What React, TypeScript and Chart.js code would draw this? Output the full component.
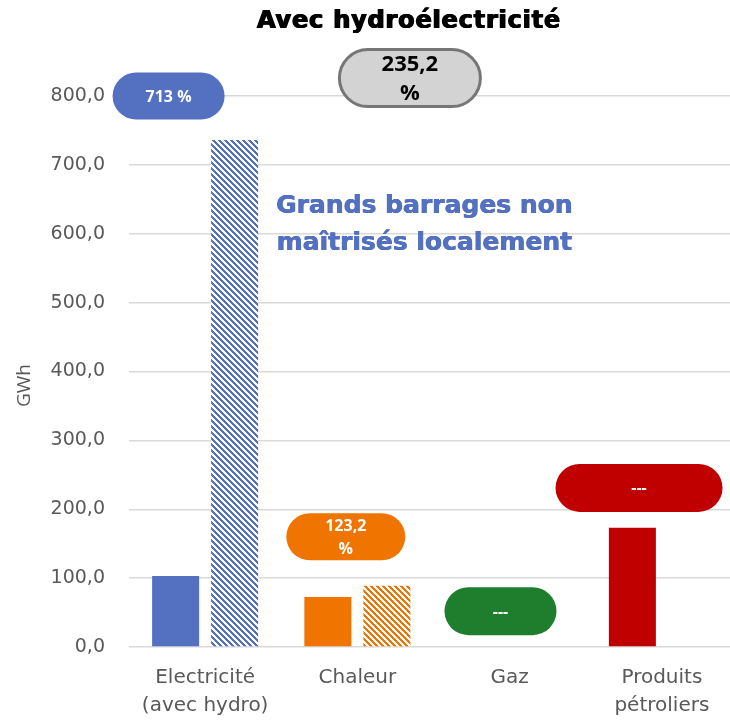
import { useEffect, useRef } from "react";
import { Chart, registerables } from "chart.js";

Chart.register(...registerables);

const categories: (string | string[])[] = [["Electricité", "(avec hydro)"], "Chaleur", "Gaz", ["Produits", "pétroliers"]];
const consumption: (number | null)[] = [103, 72.5, null, 173];
const production: (number | null)[] = [736, 89, null, null];
const yTickValues = [0, 100, 200, 300, 400, 500, 600, 700, 800];
const ratioTexts = [["713 %"], ["235,2", "%"], ["123,2", "%"], ["---"], ["---"]];
const ratioCategory = [0, 1, 1, 2, 3];
const ratioValue = [800, 826, 160, 52, 231];
const noteLines = ["Grands barrages non", "maîtrisés localement"];
const titleText = "Avec hydroélectricité";
const yAxisTitle = "GWh";

const COLORS = ["#5470C0", "#F07400", "#1E7E2E", "#C00000"];
const FONT = "'Open Sans', 'DejaVu Sans', sans-serif";
const HEAVY = "'DejaVu Sans', sans-serif";

// style of each pill annotation (same order as ratioTexts)
const pillStyles = [
  { dx: -0.24, w: 112, h: 47, fill: "#5470C0", stroke: null, color: "#ffffff", size: 16, lh: 0 },
  { dx: 0.345, w: 141, h: 57, fill: "#D3D3D3", stroke: "#767676", color: "#000000", size: 22, lh: 29 },
  { dx: -0.076, w: 119, h: 47, fill: "#F07400", stroke: null, color: "#ffffff", size: 16, lh: 23 },
  { dx: -0.06, w: 112, h: 48, fill: "#1E7E2E", stroke: null, color: "#ffffff", size: 16, lh: 0 },
  { dx: -0.15, w: 167, h: 48, fill: "#C00000", stroke: null, color: "#ffffff", size: 16, lh: 0 },
];

function makeHatch(color: string): CanvasPattern | string {
  const P = 6;
  const c = document.createElement("canvas");
  c.width = P;
  c.height = P;
  const ctx = c.getContext("2d");
  if (!ctx) return color;
  ctx.fillStyle = "#ffffff";
  ctx.fillRect(0, 0, P, P);
  ctx.fillStyle = color;
  for (let x = 0; x < P; x++) {
    for (let y = 0; y < P; y++) {
      if ((((x - y) % P) + P) % P < P / 2) ctx.fillRect(x, y, 1, 1);
    }
  }
  return ctx.createPattern(c, "repeat") || color;
}

function pill(ctx: CanvasRenderingContext2D, cx: number, cy: number, w: number, h: number) {
  const r = h / 2;
  const x = cx - w / 2;
  const y = cy - h / 2;
  ctx.beginPath();
  ctx.moveTo(x + r, y);
  ctx.lineTo(x + w - r, y);
  ctx.arc(x + w - r, cy, r, -Math.PI / 2, Math.PI / 2);
  ctx.lineTo(x + r, y + h);
  ctx.arc(x + r, cy, r, Math.PI / 2, (3 * Math.PI) / 2);
  ctx.closePath();
}

function heavyText(ctx: CanvasRenderingContext2D, t: string, x: number, y: number, color: string, spread: number) {
  ctx.fillStyle = color;
  ctx.fillText(t, x - spread, y);
  ctx.fillText(t, x, y);
  ctx.fillText(t, x + spread, y);
}

const overlayPlugin = {
  id: "overlay",
  afterDatasetsDraw(chart: any) {
    const ctx: CanvasRenderingContext2D = chart.ctx;
    const xs = chart.scales.x;
    const ys = chart.scales.y;
    const catW = xs.getPixelForValue(1) - xs.getPixelForValue(0);
    ctx.save();
    ctx.textAlign = "center";
    ctx.textBaseline = "middle";

    // y axis title
    ctx.save();
    ctx.translate(25, (ys.top + ys.bottom) / 2 + 14);
    ctx.rotate(-Math.PI / 2);
    ctx.fillStyle = "#595959";
    ctx.font = `19px ${FONT}`;
    ctx.fillText(yAxisTitle, 0, 0);
    ctx.restore();

    // title
    ctx.font = `bold 24px ${HEAVY}`;
    (ctx as any).letterSpacing = "0.8px";
    heavyText(ctx, titleText, 409, 22, "#000000", 0.7);

    // note text
    ctx.font = `bold 25px ${HEAVY}`;
    (ctx as any).letterSpacing = "0px";
    const nx = xs.getPixelForValue(1) + 0.44 * catW;
    heavyText(ctx, noteLines[0], nx, ys.getPixelForValue(639), "#5470C0", 0.4);
    heavyText(ctx, noteLines[1], nx, ys.getPixelForValue(586), "#5470C0", 0.4);

    // pills
    ratioTexts.forEach((lines, i) => {
      const st = pillStyles[i];
      const cx = xs.getPixelForValue(ratioCategory[i]) + st.dx * catW;
      const cy = ys.getPixelForValue(ratioValue[i]);
      pill(ctx, cx, cy, st.w, st.h);
      ctx.fillStyle = st.fill;
      ctx.fill();
      if (st.stroke) {
        ctx.lineWidth = 3;
        ctx.strokeStyle = st.stroke;
        ctx.stroke();
      }
      ctx.fillStyle = st.color;
      ctx.font = `bold ${st.size}px ${FONT}`;
      const n = lines.length;
      lines.forEach((t, j) => {
        ctx.fillText(t, cx, cy + (j - (n - 1) / 2) * st.lh + 1);
      });
    });
    ctx.restore();
  },
};

export default function App() {
  const ref = useRef<HTMLCanvasElement | null>(null);
  useEffect(() => {
    if (!ref.current) return;
    const hatches = COLORS.map((c) => makeHatch(c));
    const chart = new Chart(ref.current, {
      type: "bar",
      data: {
        labels: categories,
        datasets: [
          {
            label: "Consommation",
            data: consumption,
            backgroundColor: COLORS,
            categoryPercentage: 0.775,
            barPercentage: 0.797,
          },
          {
            label: "Production",
            data: production,
            backgroundColor: hatches as any,
            categoryPercentage: 0.775,
            barPercentage: 0.797,
          },
        ],
      },
      options: {
        animation: false,
        responsive: true,
        maintainAspectRatio: false,
        layout: { padding: { top: 96, right: 2, left: 0, bottom: 0 } },
        plugins: {
          legend: { display: false },
          tooltip: { enabled: false },
          title: { display: false },
        },
        scales: {
          x: {
            grid: { display: false, drawTicks: false },
            border: { display: false },
            ticks: {
              color: "#595959",
              font: { family: HEAVY, size: 20, lineHeight: 1.4 },
              padding: 17,
              maxRotation: 0,
              autoSkip: false,
            },
            afterFit: (s: any) => {
              s.height = 73;
            },
          },
          y: {
            min: 0,
            max: 800,
            afterBuildTicks: (s: any) => {
              s.ticks = yTickValues.map((v) => ({ value: v }));
            },
            grid: { color: "#D9D9D9", lineWidth: 1.5, drawTicks: false },
            border: { display: false },
            ticks: {
              color: "#595959",
              font: { family: HEAVY, size: 19 },
              padding: 24,
              callback: (v: any) => Number(v).toFixed(1).replace(".", ","),
            },
            afterFit: (s: any) => {
              s.width = 129;
            },
          },
        },
      },
      plugins: [overlayPlugin],
    });
    return () => chart.destroy();
  }, []);
  return (
    <div style={{ position: "absolute", left: 0, top: 0, width: 730, height: 720, overflow: "hidden", background: "#fff" }}>
      <div style={{ position: "relative", width: 740, height: 720 }}>
        <canvas ref={ref} />
      </div>
    </div>
  );
}
